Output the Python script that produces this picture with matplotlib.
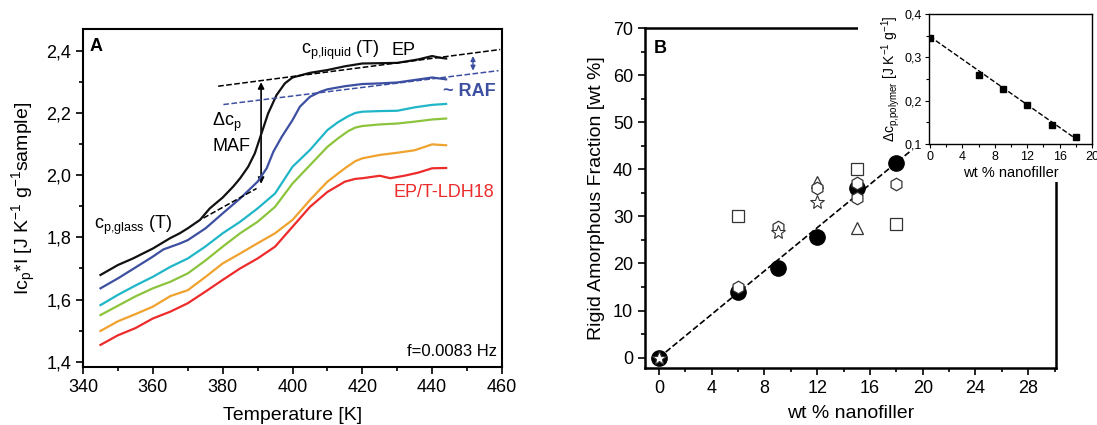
import numpy as np
import matplotlib.pyplot as plt
from matplotlib.ticker import MultipleLocator, FuncFormatter
from matplotlib.patches import Rectangle, FancyArrowPatch

plt.rcParams['font.family'] = ['Liberation Sans', 'DejaVu Sans']
plt.rcParams['mathtext.default'] = 'regular'

# ---- panel A : |cp*| vs temperature ---------------------------------------
T_ep   = [345, 350, 354.3, 360, 364.9, 367.7, 370, 373.5, 376.3, 380, 383, 385, 387.3, 389.2, 391.1, 393,
          395.4, 397.8, 400, 405, 410, 415, 420, 425, 430, 436, 440, 442, 444]
cp_ep  = [1.679, 1.711, 1.732, 1.764, 1.797, 1.813, 1.829, 1.856, 1.893, 1.928, 1.963, 1.990, 2.027, 2.070,
          2.134, 2.198, 2.257, 2.295, 2.314, 2.329, 2.338, 2.350, 2.359, 2.360, 2.361, 2.372, 2.383, 2.378, 2.375]
T_6    = [345, 350, 355.3, 360, 363, 367.7, 370, 375.1, 380, 385, 390, 392.6, 394.5, 396.9, 400, 402.1,
          405, 407.9, 410, 415, 420, 425, 430, 435, 440, 444]
cp_6   = [1.636, 1.668, 1.705, 1.738, 1.761, 1.780, 1.791, 1.829, 1.877, 1.925, 1.979, 2.022, 2.075, 2.123,
          2.177, 2.220, 2.252, 2.268, 2.276, 2.286, 2.293, 2.295, 2.298, 2.306, 2.314, 2.308]
T_9    = [345, 350, 355, 360, 365, 370, 375, 380, 385, 390, 395, 400, 405, 410, 413, 416, 418, 420, 425, 430, 435, 440, 444]
cp_9   = [1.582, 1.615, 1.645, 1.673, 1.705, 1.732, 1.770, 1.813, 1.850, 1.893, 1.941, 2.027, 2.081, 2.145,
          2.170, 2.190, 2.200, 2.204, 2.206, 2.207, 2.218, 2.226, 2.229]
T_12   = [345, 350, 355, 360, 365, 370, 375, 380, 385, 390, 395, 400, 405, 410, 413, 416, 418, 420, 425, 430, 435, 440, 444]
cp_12  = [1.550, 1.580, 1.610, 1.636, 1.657, 1.684, 1.725, 1.770, 1.813, 1.850, 1.898, 1.973, 2.032, 2.091,
          2.118, 2.142, 2.153, 2.158, 2.163, 2.166, 2.172, 2.179, 2.182]
T_15   = [345, 350, 355, 360, 365, 370, 375, 380, 385, 390, 395, 400, 405, 410, 415, 418, 420, 425, 430, 435, 440, 444]
cp_15  = [1.499, 1.530, 1.553, 1.577, 1.611, 1.630, 1.672, 1.716, 1.748, 1.781, 1.813, 1.856, 1.920, 1.979,
          2.022, 2.045, 2.054, 2.065, 2.072, 2.080, 2.099, 2.096]
T_18   = [345, 350, 355, 360, 365, 370, 375, 380, 385, 390, 395, 400, 405, 410, 415, 418, 420, 425, 428, 432, 436, 440, 444]
cp_18  = [1.454, 1.485, 1.508, 1.539, 1.561, 1.588, 1.625, 1.663, 1.700, 1.732, 1.770, 1.834, 1.898, 1.946,
          1.979, 1.988, 1.990, 1.998, 1.990, 1.998, 2.008, 2.022, 2.023]
curve_colors = ['#111111', '#3d4fa0', '#1fb6c8', '#8cc43e', '#f0a22e', '#ee2b2b']

# tangent lines and arrows
glass_T,  glass_cp  = [374.5, 389.7], [1.862, 1.957]
liq_T,    liq_cp    = [378.7, 459.5], [2.286, 2.404]
raf_T,    raf_cp    = [380.2, 459.0], [2.227, 2.336]
maf_arrow = (391, 2.308, 1.963)
raf_arrow = (451.7, 2.392, 2.327)

# ---- panel B : rigid amorphous fraction -----------------------------------
raf_x      = [0, 6, 9, 12, 15, 18]
raf_filled = [0, 14, 19, 25.7, 36, 41.4]
sq_x,  sq_y  = [6, 15, 18], [30, 40, 28.3]
tri_x, tri_y = [12, 15], [37.4, 27.5]
hex_x, hex_y = [6, 9, 12, 15, 15, 18], [15, 27.8, 36, 37, 33.9, 36.8]
star_x, star_y = [0, 9, 12], [0, 26.6, 33]
fit_x, fit_y = [0, 19], [0, 43.7]

# inset: delta cp of polymer
ins_x  = [0, 6, 9, 12, 15, 18]
ins_y  = [0.345, 0.260, 0.226, 0.189, 0.144, 0.115]
ins_fx, ins_fy = [0, 18.3], [0.348, 0.108]

comma = FuncFormatter(lambda v, p: f'{v:.1f}'.replace('.', ','))

fig = plt.figure(figsize=(10.97, 4.25), dpi=100)

# ------------------------------ panel A ------------------------------------
ax = fig.add_axes([0.0757, 0.1365, 0.3819, 0.7953])
curves = [(T_ep, cp_ep), (T_6, cp_6), (T_9, cp_9), (T_12, cp_12), (T_15, cp_15), (T_18, cp_18)]
for (tt, cc), col in zip(curves, curve_colors):
    ax.plot(tt, cc, color=col, lw=1.6)
ax.plot(glass_T, glass_cp, 'k--', lw=1.1)
ax.plot(liq_T, liq_cp, 'k--', lw=1.1)
ax.plot(raf_T, raf_cp, '--', color='#3d4fa0', lw=1.1)
ax.add_patch(FancyArrowPatch((maf_arrow[0], maf_arrow[1]), (maf_arrow[0], maf_arrow[2]),
                             arrowstyle='<|-|>', mutation_scale=9, color='k', lw=1.2))
ax.add_patch(FancyArrowPatch((raf_arrow[0], raf_arrow[1]), (raf_arrow[0], raf_arrow[2]),
                             arrowstyle='<|-|>', mutation_scale=7, color='#3d4fa0', lw=1.0))

ax.text(341.8, 2.415, 'A', fontsize=13, fontweight='bold', va='center')
ax.text(402.5, 2.402, 'c$_{p{,}liquid}$ (T)', fontsize=13, va='center')
ax.text(428.3, 2.402, 'EP', fontsize=13, va='center')
ax.text(443.0, 2.268, '~ RAF', fontsize=13, va='center', color='#3d4fa0', fontweight='bold')
ax.text(377.0, 2.168, r'$\Delta$c$_p$', fontsize=13, va='center')
ax.text(377.0, 2.093, 'MAF', fontsize=13, va='center')
ax.text(343.0, 1.838, 'c$_{p{,}glass}$ (T)', fontsize=13, va='center')
ax.text(428.8, 1.943, 'EP/T-LDH18', fontsize=13, va='center', color='#ee2b2b')
ax.text(458.5, 1.432, 'f=0.0083 Hz', fontsize=12, va='center', ha='right')

ax.set_xlim(340, 460)
ax.set_ylim(1.383, 2.47)
ax.xaxis.set_major_locator(MultipleLocator(20))
ax.xaxis.set_minor_locator(MultipleLocator(10))
ax.yaxis.set_major_locator(MultipleLocator(0.2))
ax.yaxis.set_minor_locator(MultipleLocator(0.1))
ax.yaxis.set_major_formatter(comma)
ax.tick_params(which='both', direction='out', labelsize=13, width=1.2)
ax.tick_params(which='major', length=5)
ax.tick_params(which='minor', length=3)
for s in ax.spines.values():
    s.set_linewidth(1.5)
ax.set_xlabel('Temperature [K]', fontsize=14, labelpad=8)
ax.set_ylabel('Ic$_p$*I [J K$^{-1}$ g$^{-1}$sample]', fontsize=14, labelpad=6)

# ------------------------------ panel B ------------------------------------
bx = fig.add_axes([0.588, 0.1341, 0.3746, 0.80])
bx.plot(fit_x, fit_y, 'k--', lw=1.2, zorder=1)
bx.plot(raf_x, raf_filled, 'o', color='k', ms=11, zorder=2)
bx.plot(sq_x, sq_y, 's', mfc='white', mec='#333333', mew=0.9, ms=8, zorder=3)
bx.plot(tri_x, tri_y, '^', mfc='white', mec='#333333', mew=0.9, ms=9, zorder=3)
bx.plot(hex_x, hex_y, 'h', mfc='white', mec='#333333', mew=0.9, ms=9, zorder=3)
bx.plot(star_x, star_y, '*', mfc='white', mec='#333333', mew=0.8, ms=10, zorder=4)
bx.text(0.02, 0.94, 'B', transform=bx.transAxes, fontsize=13, fontweight='bold', va='center')

bx.set_xlim(-1.05, 30.1)
bx.set_ylim(-2.2, 70)
bx.xaxis.set_major_locator(MultipleLocator(4))
bx.xaxis.set_minor_locator(MultipleLocator(2))
bx.yaxis.set_major_locator(MultipleLocator(10))
bx.yaxis.set_minor_locator(MultipleLocator(5))
bx.tick_params(which='both', direction='out', labelsize=13, width=1.2)
bx.tick_params(which='major', length=5)
bx.tick_params(which='minor', length=3)
for s in bx.spines.values():
    s.set_linewidth(1.8)
bx.set_xlabel('wt % nanofiller', fontsize=14, labelpad=6)
bx.set_ylabel('Rigid Amorphous Fraction [wt %]', fontsize=14, labelpad=6)

# white area under the inset
fig.add_artist(Rectangle((0.7821, 0.647), 0.2179, 0.353, transform=fig.transFigure,
                         facecolor='white', edgecolor='none', zorder=1))
fig.add_artist(Rectangle((0.857, 0.5718), 0.143, 0.0752, transform=fig.transFigure,
                         facecolor='white', edgecolor='none', zorder=1))

# ------------------------------ inset --------------------------------------
ix = fig.add_axes([0.8469, 0.6612, 0.1486, 0.3059], zorder=2)
ix.plot(ins_fx, ins_fy, 'k--', lw=1.0)
ix.plot(ins_x, ins_y, 's', color='k', ms=4)
ix.set_xlim(-0.1, 20)
ix.set_ylim(0.1, 0.4)
ix.xaxis.set_major_locator(MultipleLocator(4))
ix.xaxis.set_minor_locator(MultipleLocator(2))
ix.yaxis.set_major_locator(MultipleLocator(0.1))
ix.yaxis.set_minor_locator(MultipleLocator(0.05))
ix.yaxis.set_major_formatter(comma)
ix.tick_params(which='both', direction='out', labelsize=9, width=0.8, pad=2)
ix.tick_params(which='major', length=3)
ix.tick_params(which='minor', length=2)
for s in ix.spines.values():
    s.set_linewidth(1.0)
ix.set_xlabel('wt % nanofiller', fontsize=10.5, labelpad=2)
ix.set_ylabel(r'$\Delta$c$_{p{,}polymer}$ [J K$^{-1}$ g$^{-1}$]', fontsize=10, labelpad=2)

plt.savefig('out.png', dpi=100)
